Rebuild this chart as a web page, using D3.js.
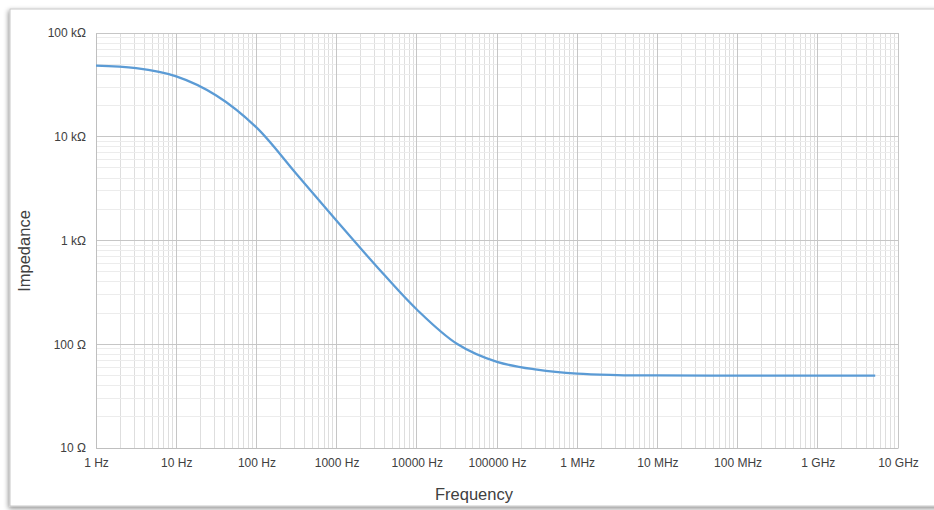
<!DOCTYPE html>
<html>
<head>
<meta charset="utf-8">
<script src="https://cdn.jsdelivr.net/npm/d3@7"></script>
<style>
  html, body { margin:0; padding:0; background:#fff; }
  svg { display:block; font-family:"Liberation Sans", Arial, sans-serif; }
</style>
</head>
<body>
<div id="chart"></div>
<script>
// impedance curve
const freqHz = [1, 3.16, 10, 31.6, 100, 316, 1000, 3160, 10000, 31600, 100000, 316000, 1e6, 3.16e6, 1e7, 1e8, 1e9, 5.2e9];
const impedanceOhm = [48400, 45800, 38200, 25000, 12300, 4370, 1550, 562, 216, 101, 67.6, 56.9, 52.0, 50.5, 50.0, 49.8, 49.8, 49.8];

const xTicks = [1, 10, 100, 1e3, 1e4, 1e5, 1e6, 1e7, 1e8, 1e9, 1e10];
const xTickLabels = ["1 Hz", "10 Hz", "100 Hz", "1000 Hz", "10000 Hz", "100000 Hz", "1 MHz", "10 MHz", "100 MHz", "1 GHz", "10 GHz"];
const yTicks = [10, 100, 1e3, 1e4, 1e5];
const yTickLabels = ["10 \u03A9", "100 \u03A9", "1 k\u03A9", "10 k\u03A9", "100 k\u03A9"];

const width = 934, height = 510;
const svg = d3.select("#chart").append("svg")
    .attr("width", width).attr("height", height);

const defs = svg.append("defs");
const f = defs.append("filter").attr("id","shadow").attr("x","-5%").attr("y","-5%").attr("width","110%").attr("height","110%");
f.append("feDropShadow").attr("dx",-1).attr("dy",2).attr("stdDeviation",2.5).attr("flood-color","#000").attr("flood-opacity",0.45);

// card
svg.append("rect").attr("x",10).attr("y",9).attr("width",935).attr("height",497)
   .attr("fill","#fff").attr("stroke","#c8c8c8").attr("filter","url(#shadow)");

const x = d3.scaleLog().domain([1, 1e10]).range([96, 898]);
const y = d3.scaleLog().domain([10, 1e5]).range([448, 33]);

// minor grid
const minorX = [], minorY = [];
for (let d = 0; d < 10; d++) for (let k = 2; k <= 9; k++) minorX.push(k * Math.pow(10, d));
for (let d = 1; d < 5; d++) for (let k = 2; k <= 9; k++) minorY.push(k * Math.pow(10, d));

const grid = svg.append("g");
grid.selectAll(".mx").data(minorX).enter().append("line")
  .attr("x1", d=>x(d)).attr("x2", d=>x(d)).attr("y1", y(10)).attr("y2", y(1e5))
  .attr("stroke", "#dedede").attr("stroke-width", 1).attr("shape-rendering","crispEdges");
grid.selectAll(".my").data(minorY).enter().append("line")
  .attr("x1", x(1)).attr("x2", x(1e10)).attr("y1", d=>y(d)).attr("y2", d=>y(d))
  .attr("stroke", "#ececec").attr("stroke-width", 1).attr("shape-rendering","crispEdges");
grid.selectAll(".Mx").data(xTicks).enter().append("line")
  .attr("x1", d=>x(d)).attr("x2", d=>x(d)).attr("y1", y(10)).attr("y2", y(1e5))
  .attr("stroke", "#c6c6c6").attr("stroke-width", 1).attr("shape-rendering","crispEdges");
grid.selectAll(".My").data(yTicks).enter().append("line")
  .attr("x1", x(1)).attr("x2", x(1e10)).attr("y1", d=>y(d)).attr("y2", d=>y(d))
  .attr("stroke", "#c6c6c6").attr("stroke-width", 1).attr("shape-rendering","crispEdges");

// axes
const xAxis = d3.axisBottom(x).tickValues(xTicks).tickFormat((d,i)=>xTickLabels[i]).tickSize(0).tickPadding(10);
const gx = svg.append("g").attr("transform", `translate(0,${y(10)})`).call(xAxis);
gx.select(".domain").attr("stroke","#bfbfbf");
gx.selectAll("text").attr("font-size","12px").attr("fill","#404040").attr("font-family","Liberation Sans, Arial, sans-serif");

const yAxis = d3.axisLeft(y).tickValues(yTicks).tickFormat((d,i)=>yTickLabels[i]).tickSize(0).tickPadding(10);
const gy = svg.append("g").attr("transform", `translate(${x(1)},0)`).call(yAxis);
gy.select(".domain").attr("stroke","#bfbfbf");
gy.selectAll("text").attr("font-size","12px").attr("fill","#404040").attr("font-family","Liberation Sans, Arial, sans-serif");

// curve
const pts = freqHz.map((fq,i)=>[fq, impedanceOhm[i]]);
const line = d3.line().x(d=>x(d[0])).y(d=>y(d[1])).curve(d3.curveCatmullRom.alpha(0.5));
svg.append("path").datum(pts).attr("d", line)
  .attr("fill","none").attr("stroke","#5b9bd5").attr("stroke-width",2.25).attr("stroke-linejoin","round");

// titles
svg.append("text").attr("x", 474).attr("y", 500).attr("text-anchor","middle")
  .attr("font-size","16.5px").attr("fill","#404040").text("Frequency");
svg.append("text").attr("transform","translate(30,251) rotate(-90)").attr("text-anchor","middle")
  .attr("font-size","16.5px").attr("fill","#404040").text("Impedance");
</script>
</body>
</html>
